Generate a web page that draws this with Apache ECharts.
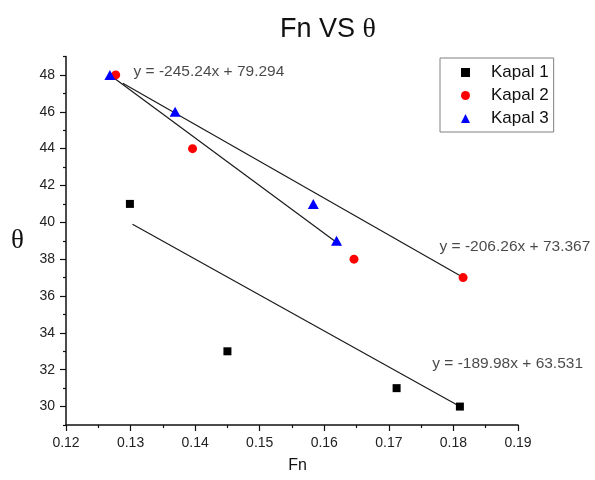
<!DOCTYPE html>
<html><head><meta charset="utf-8">
<script src="https://cdn.jsdelivr.net/npm/echarts@6/dist/echarts.min.js"></script>
<style>html,body{margin:0;padding:0;background:#fff}#c{width:595px;height:480px}</style>
</head><body><div id="c"></div>
<script>
// ---- data ----
const fnKapal1 = [0.1299, 0.1450, 0.1712, 0.1810];
const thetaKapal1 = [41, 33, 31, 30];
const fnKapal2 = [0.1277, 0.1396, 0.1646, 0.1815];
const thetaKapal2 = [48, 44, 38, 37];
const fnKapal3 = [0.1268, 0.1369, 0.1583, 0.1619];
const thetaKapal3 = [48, 46, 41, 39];
// trend lines as drawn in the picture (start, end)
const trendFn1 = [0.1303, 0.1808];
const trendTheta1 = [39.9, 30.05];
const trendFn2 = [0.1288, 0.1818];
const trendTheta2 = [47.55, 36.95];
const trendFn3 = [0.1268, 0.1625];
const trendTheta3 = [48.0, 38.75];
const equations = ['y = -189.98x + 63.531', 'y = -206.26x + 73.367', 'y = -245.24x + 79.294'];
const seriesNames = ['Kapal 1', 'Kapal 2', 'Kapal 3'];
const xTicks = [0.12, 0.13, 0.14, 0.15, 0.16, 0.17, 0.18, 0.19];
const yTicks = [30, 32, 34, 36, 38, 40, 42, 44, 46, 48];
const yMinorTicks = [29, 31, 33, 35, 37, 39, 41, 43, 45, 47, 49];
// anchor (left edge, vertical middle) of each equation text, in data units
const eqAnchorFn = [0.17664, 0.17777, 0.13038];
const eqAnchorTheta = [32.35, 38.68, 48.16];

const zip = (a, b) => a.map((v, i) => [v, b[i]]);
const FONT = 'Liberation Sans';
const chart = echarts.init(document.getElementById('c'), null, {renderer: 'canvas'});

const trendStyle = {color: '#1a1a1a', width: 1.2, opacity: 1};
const trendSeries = [[trendFn1, trendTheta1], [trendFn2, trendTheta2], [trendFn3, trendTheta3]].map((t, i) => ({
  type: 'line', name: 'trend' + (i + 1), data: zip(t[0], t[1]), showSymbol: false, symbol: 'none',
  lineStyle: trendStyle, silent: true, z: 2, animation: false
}));

const option = {
  animation: false,
  backgroundColor: '#fff',
  title: {
    text: '{a|Fn VS }{b|θ}',
    left: 275, top: 11,
    textStyle: {
      fontWeight: 'normal',
      rich: {
        a: {fontFamily: FONT, fontSize: 27, fontWeight: 'normal', color: '#111'},
        b: {fontFamily: 'Liberation Serif', fontSize: 28, fontWeight: 'normal', color: '#111'}
      }
    }
  },
  legend: {
    orient: 'vertical',
    left: 440, top: 58,
    data: seriesNames,
    itemWidth: 9, itemHeight: 9, itemGap: 6,
    padding: [6, 5, 5, 21],
    borderColor: '#808080', borderWidth: 1,
    textStyle: {fontFamily: FONT, fontSize: 17, color: '#111', lineHeight: 17, padding: [0, 0, 0, 16]}
  },
  grid: {left: 66, right: 77, top: 56.5, bottom: 55, containLabel: false},
  xAxis: {
    type: 'value', min: 0.12, max: 0.19, interval: 0.01,
    name: 'Fn', nameLocation: 'middle', nameGap: 33,
    nameTextStyle: {fontFamily: FONT, fontSize: 16, color: '#111', padding: [0, 0, 0, 11]},
    axisLine: {show: true, onZero: false, lineStyle: {color: '#111', width: 1.5}},
    axisTick: {show: true, length: 6, lineStyle: {color: '#111', width: 1.2}},
    minorTick: {show: true, splitNumber: 2, length: 3, lineStyle: {color: '#111', width: 1.2}},
    axisLabel: {fontFamily: FONT, fontSize: 14, color: '#222', margin: 11, formatter: v => v.toFixed(2),
      customValues: xTicks},
    splitLine: {show: false}, minorSplitLine: {show: false}
  },
  yAxis: [{
    type: 'value', min: 29, max: 49, position: 'left',
    name: 'θ', nameLocation: 'middle', nameRotate: 0, nameGap: 42,
    nameTextStyle: {fontFamily: 'Liberation Serif', fontSize: 27, color: '#111'},
    axisLine: {show: true, onZero: false, lineStyle: {color: '#111', width: 1.5}},
    axisTick: {show: true, length: 6, customValues: yTicks, lineStyle: {color: '#111', width: 1.2}},
    axisLabel: {fontFamily: FONT, fontSize: 14, color: '#222', margin: 11, customValues: yTicks},
    splitLine: {show: false}
  }, {
    type: 'value', min: 29, max: 49, position: 'left',
    axisLine: {show: false},
    axisTick: {show: true, length: 3, customValues: yMinorTicks, lineStyle: {color: '#111', width: 1.2}},
    axisLabel: {show: false},
    splitLine: {show: false}
  }],
  series: [
    ...trendSeries,
    {type: 'scatter', name: seriesNames[0], data: zip(fnKapal1, thetaKapal1), symbol: 'rect', symbolSize: 8,
      itemStyle: {color: '#000000', opacity: 1}, z: 5},
    {type: 'scatter', name: seriesNames[1], data: zip(fnKapal2, thetaKapal2), symbol: 'circle', symbolSize: 9,
      itemStyle: {color: '#ff0000', opacity: 1}, z: 5},
    {type: 'scatter', name: seriesNames[2], data: zip(fnKapal3, thetaKapal3), symbol: 'triangle', symbolSize: [11, 10],
      itemStyle: {color: '#0000ff', opacity: 1}, z: 6},
    {type: 'scatter', name: 'equations', silent: true, z: 7, symbolSize: 1,
      itemStyle: {color: 'rgba(0,0,0,0)'},
      data: equations.map((t, i) => ({name: t, value: [eqAnchorFn[i], eqAnchorTheta[i]]})),
      label: {show: true, position: 'right', distance: 0, formatter: p => p.name,
        fontFamily: FONT, fontSize: 15.5, color: '#1a1a1a'}}
  ]
};
chart.setOption(option);
</script>
</body></html>
